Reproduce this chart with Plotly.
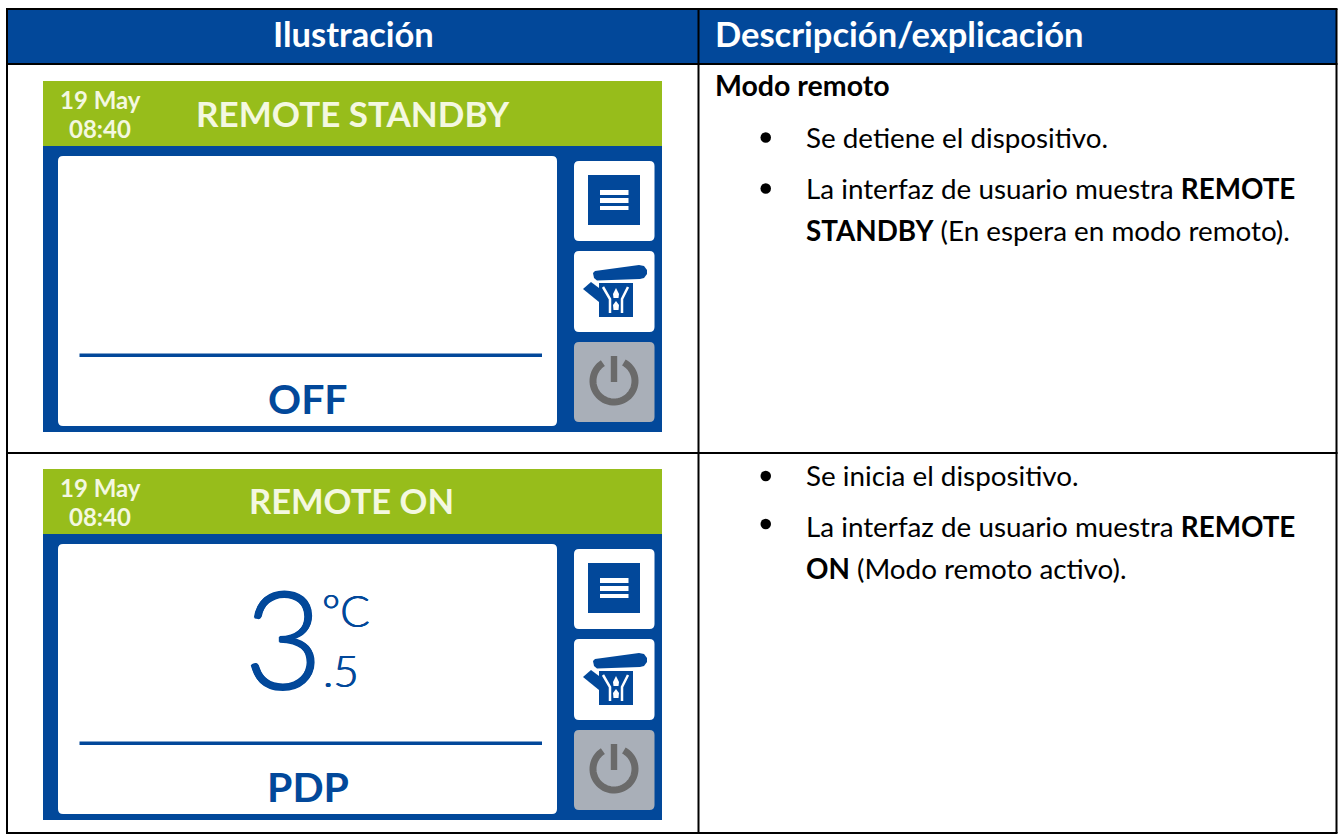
import math
import plotly.graph_objects as go

# ---- content ----
headers = ["Ilustración", "Descripción/explicación"]
section_title = "Modo remoto"
row1_lines = ["Se detiene el dispositivo.",
              "La interfaz de usuario muestra <b>REMOTE</b>",
              "<b>STANDBY</b> (En espera en modo remoto)."]
row2_lines = ["Se inicia el dispositivo.",
              "La interfaz de usuario muestra <b>REMOTE</b>",
              "<b>ON</b> (Modo remoto activo)."]
screen_date = ["19 May", "08:40"]
screen_titles = ["REMOTE STANDBY", "REMOTE ON"]
screen_modes = ["OFF", "PDP"]
reading = ["3", "°C", ".5"]

BLUE = "#02489a"
GREEN = "#97bd1b"
GREY = "#a9afb8"
DARK = "#6a6a6a"
FONT = "Lato"

shapes, ann = [], []

def rect(x0, y0, x1, y1, fill):
    shapes.append(dict(type="rect", x0=x0, y0=y0, x1=x1, y1=y1, fillcolor=fill, line_width=0, layer="below"))

def rrect(x0, y0, x1, y1, r, fill):
    p = (f"M{x0+r},{y0} L{x1-r},{y0} Q{x1},{y0} {x1},{y0+r} L{x1},{y1-r} Q{x1},{y1} {x1-r},{y1} "
         f"L{x0+r},{y1} Q{x0},{y1} {x0},{y1-r} L{x0},{y0+r} Q{x0},{y0} {x0+r},{y0} Z")
    shapes.append(dict(type="path", path=p, fillcolor=fill, line_width=0, layer="below"))

def poly(pts, fill=None, color=None, width=0):
    p = "M" + " L".join(f"{a:.2f},{b:.2f}" for a, b in pts)
    if fill:
        p += " Z"
    d = dict(type="path", path=p, layer="below")
    d["fillcolor"] = fill if fill else "rgba(0,0,0,0)"
    d["line"] = dict(color=color or "rgba(0,0,0,0)", width=width)
    shapes.append(d)

def text(x, y, s, size, color="#000000", anchor="left", family=FONT, shadow=None):
    f = dict(family=family, size=size, color=color)
    if shadow:
        f["shadow"] = shadow
    ann.append(dict(x=x, y=y, xref="x", yref="y", text=s, showarrow=False, xanchor=anchor, yanchor="middle",
                    font=f, align=anchor, borderpad=0, borderwidth=0))

def line(x0, y0, x1, y1, w=2, color="#000000"):
    shapes.append(dict(type="line", x0=x0, y0=y0, x1=x1, y1=y1, line=dict(color=color, width=w), layer="below"))

# table frame
L, M, R, T, H, D, B = 7, 698.5, 1336.5, 9, 64, 453, 833
rect(L, T, R, H, BLUE)
for y in (T, H, D, B):
    line(L - 1, y, R + 1, y)
for x in (L, M, R):
    line(x, T, x, B)
text(353, 33, f"<b>{headers[0]}</b>", 34.5, "#ffffff", "center")
text(715, 33, f"<b>{headers[1]}</b>", 34.5, "#ffffff")

def screen(dy, title, mode, title_x, title_size):
    rect(43, 81 + dy, 662, 432 + dy, BLUE)
    rect(43, 81 + dy, 662, 146 + dy, GREEN)
    rrect(58, 156 + dy, 557, 426 + dy, 5, "#ffffff")
    rect(79.5, 353.5 + dy, 542, 357 + dy, BLUE)
    rrect(574, 161 + dy, 654.5, 241 + dy, 5, "#ffffff")
    rrect(574, 251 + dy, 654.5, 332 + dy, 5, "#ffffff")
    rrect(574, 342 + dy, 654.5, 422 + dy, 5, GREY)
    # menu icon
    rect(588, 175 + dy, 640, 225 + dy, BLUE)
    for y0, y1 in ((190, 195), (198, 203), (206, 210)):
        rect(600, y0 + dy, 628.5, y1 + dy, "#ffffff")
    # filter icon
    rect(599, 283 + dy, 633, 317 + dy, BLUE)
    hood = [(593, 273), (595, 271), (639, 265), (644, 266), (647, 270), (647, 274), (644, 278), (640, 279), (597, 280.5), (594, 278)]
    poly([(a, b + dy) for a, b in hood], fill=BLUE)
    poly([(583, 289 + dy), (591, 282 + dy), (599, 288 + dy), (599, 302 + dy)], fill=BLUE)
    poly([(603, 287 + dy), (610, 299 + dy), (610, 313 + dy)], color="#ffffff", width=2.5)
    poly([(628, 287 + dy), (622, 299 + dy), (622, 313 + dy)], color="#ffffff", width=2.5)
    poly([(616, 288 + dy), (613, 294 + dy), (613.5, 298 + dy), (618.5, 298 + dy), (619, 294 + dy)], fill="#ffffff")
    poly([(616, 301 + dy), (613, 305 + dy), (613.5, 310 + dy), (618.5, 310 + dy), (619, 305 + dy)], fill="#ffffff")
    # power icon
    cx, cy, r = 614, 381 + dy, 21
    arc = [(cx + r * math.sin(math.radians(a)), cy - r * math.cos(math.radians(a))) for a in range(28, 333, 6)]
    poly(arc, color=DARK, width=7)
    rect(610.8, 356 + dy, 617.2, 382 + dy, DARK)
    # text
    text(100, 99.5 + dy, f"<b>{screen_date[0]}</b>", 24, "#f4f8e0", "center")
    text(100, 128.5 + dy, f"<b>{screen_date[1]}</b>", 24, "#f4f8e0", "center")
    text(title_x, 112.5 + dy, f"<b>{title}</b>", title_size, "#f4f8e0", "center")
    text(308, 398 + dy, f"<b>{mode}</b>", 41, BLUE, "center")

screen(0, screen_titles[0], screen_modes[0], 353, 35)
screen(388, screen_titles[1], screen_modes[1], 351.5, 34.5)

# big reading
thick = "0.8px 0 0 #02489a, -0.8px 0 0 #02489a, 0 0.8px 0 #02489a, 0 -0.8px 0 #02489a"
thin = "0.4px 0 0 #02489a, -0.4px 0 0 #02489a"
text(283, 636, reading[0], 136, BLUE, "center", family="Lato Light", shadow=thick)
text(346, 610, reading[1], 44, BLUE, "center", family="Lato Light", shadow=thin)
text(341, 670, reading[2], 44, BLUE, "center", family="Lato Light", shadow=thin)

# description column
text(715, 85, f"<b>{section_title}</b>", 28.5)
for y, s in zip((137, 188, 230), row1_lines):
    text(806, y, s, 27.8)
for y, s in zip((475, 526, 568), row2_lines):
    text(806, y, s, 27.8)
for yb in (137.5, 188.5, 476, 524):
    shapes.append(dict(type="circle", x0=760.5, y0=yb - 5.3, x1=771, y1=yb + 5.3, fillcolor="#000000", line_width=0, layer="below"))

fig = go.Figure()
fig.update_layout(
    width=1338, height=834, margin=dict(l=0, r=0, t=0, b=0),
    paper_bgcolor="#ffffff", plot_bgcolor="#ffffff", showlegend=False,
    xaxis=dict(range=[0, 1338], visible=False, fixedrange=True),
    yaxis=dict(range=[834, 0], visible=False, fixedrange=True),
    shapes=shapes, annotations=ann,
)
fig.write_html("out.html", config=dict(displayModeBar=False),
               post_script="document.body.style.margin='0';document.body.style.overflow='hidden';")
